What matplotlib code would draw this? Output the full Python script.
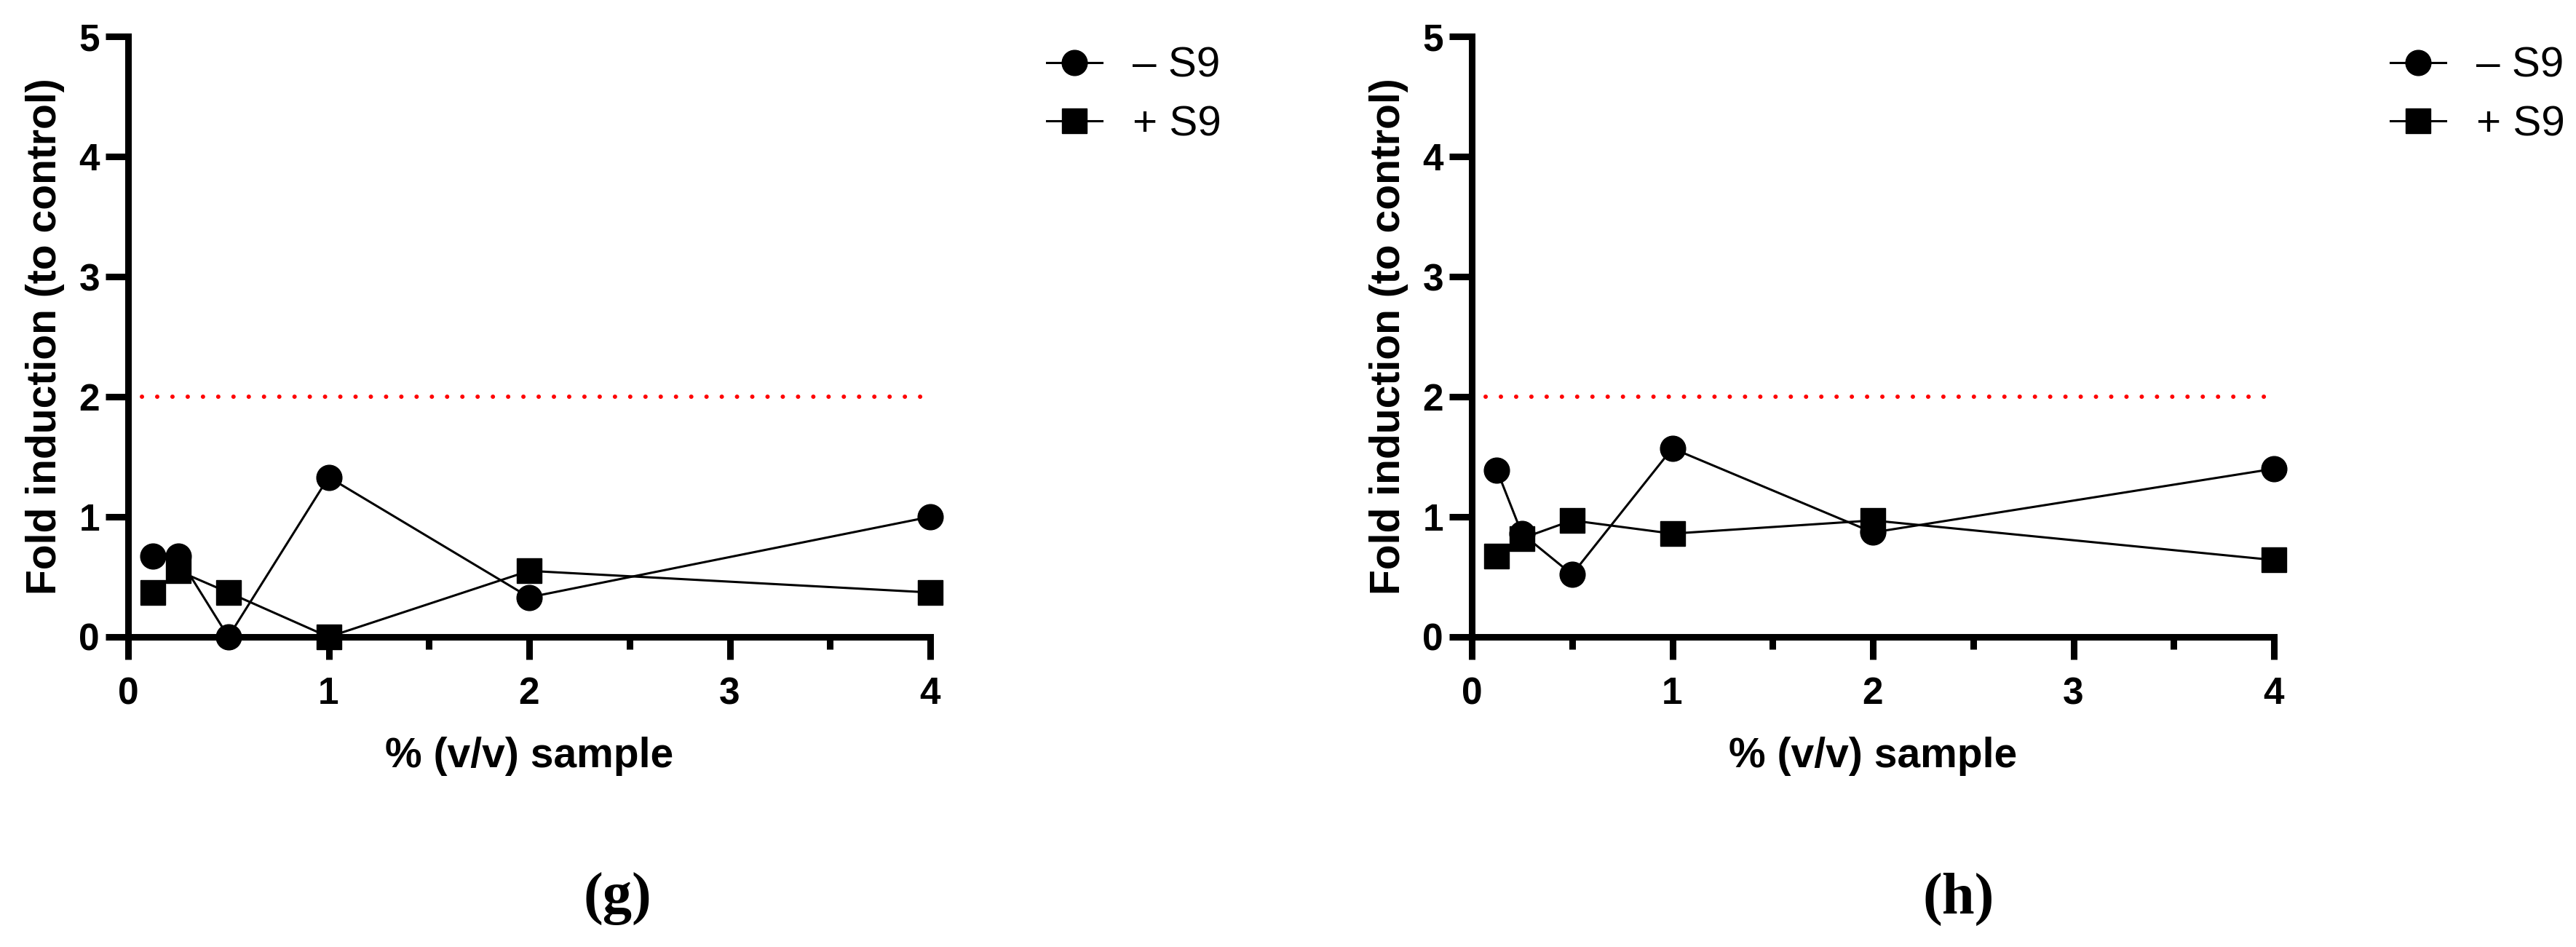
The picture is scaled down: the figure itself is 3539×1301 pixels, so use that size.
import matplotlib
matplotlib.use("Agg")
import matplotlib.pyplot as plt

# concentrations, % (v/v)
conc = [0.125, 0.25, 0.5, 1, 2, 4]

# panel g
g_minus = [0.67, 0.67, 0.0, 1.33, 0.33, 1.0]
g_plus = [0.37, 0.55, 0.37, 0.0, 0.55, 0.37]

# panel h
h_minus = [1.39, 0.86, 0.52, 1.57, 0.87, 1.40]
h_plus = [0.67, 0.82, 0.97, 0.86, 0.97, 0.64]

threshold = 2
series_names = ["\u2013 S9", "+ S9"]
panel_tags = ["(g)", "(h)"]

plt.rcParams['font.family'] = ['Liberation Sans', 'DejaVu Sans']

W, H = 3539, 1301
fig = plt.figure(figsize=(W / 100, H / 100), dpi=100)


def make_panel(left_px, minus, plus, tag, tag_x):
    ax = fig.add_axes([left_px / W, 1 - 875 / H, 1102 / W, 825 / H])
    ax.plot(conc, minus, color='black', lw=2.2, marker='o', ms=25,
            clip_on=False, zorder=3, label=series_names[0])
    ax.plot(conc, plus, color='black', lw=2.2, marker='s', ms=24,
            clip_on=False, zorder=3, label=series_names[1])
    # threshold line (2-fold)
    ax.plot([0.07, 3.97], [threshold, threshold], color='#ff0000', lw=4.3,
            dashes=[0.01, 3.5], dash_capstyle='round', zorder=2)

    ax.set_xlim(0, 4)
    ax.set_ylim(0, 5)
    ax.set_xticks([0, 1, 2, 3, 4])
    ax.set_xticks([0.5, 1.5, 2.5, 3.5], minor=True)
    ax.set_yticks([0, 1, 2, 3, 4, 5])
    for s in ['top', 'right']:
        ax.spines[s].set_visible(False)
    for s in ['left', 'bottom']:
        ax.spines[s].set_linewidth(6.5)
    ax.tick_params(axis='both', which='major', length=22, width=6.5,
                   labelsize=37)
    ax.tick_params(axis='x', which='major', pad=17)
    ax.tick_params(axis='y', which='major', pad=6)
    ax.tick_params(axis='x', which='minor', length=12, width=6.5)
    for lab in ax.get_xticklabels() + ax.get_yticklabels():
        lab.set_fontweight('bold')

    ax.set_xlabel("% (v/v) sample", fontsize=41, fontweight='bold')
    ax.xaxis.set_label_coords(0.5, -0.166)
    ax.set_ylabel("Fold induction (to control)", fontsize=41, fontweight='bold')
    ax.yaxis.set_label_coords(-0.079, 0.5)

    ax.legend(loc='upper left', frameon=False, fontsize=42, borderpad=0,
              borderaxespad=0, handlelength=1.3, handletextpad=0.72,
              labelspacing=0.45,
              bbox_to_anchor=((left_px + 1262) / W, 1 - 64 / H),
              bbox_transform=fig.transFigure)

    fig.text(tag_x / W, 1 - 1235 / H, tag, ha='center', va='center',
             fontsize=58, fontweight='bold', family='Liberation Serif')
    return ax


make_panel(176, g_minus, g_plus, panel_tags[0], 848)
make_panel(2022, h_minus, h_plus, panel_tags[1], 2691)

fig.savefig("out.png", dpi=100)
